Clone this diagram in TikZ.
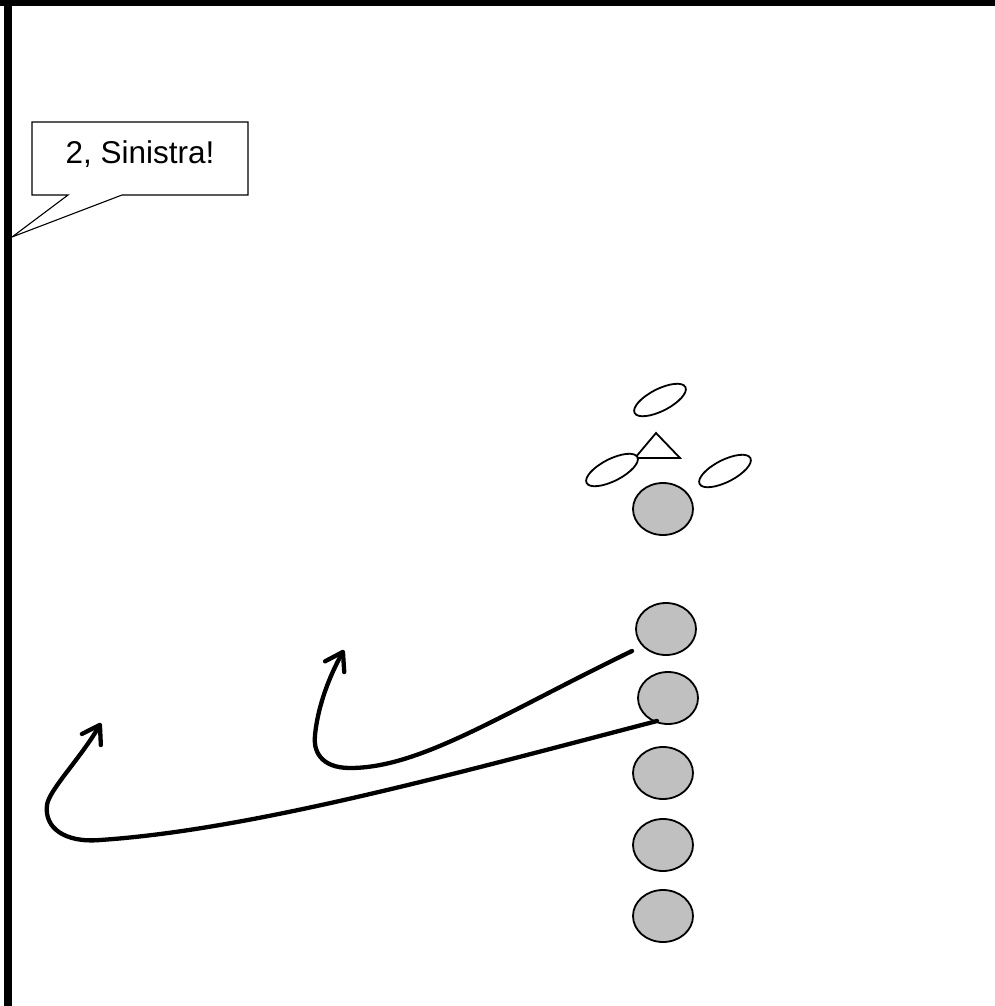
\documentclass[tikz,border=0pt]{standalone}
\usepackage{fontspec}
\setmainfont{Liberation Sans}
\usetikzlibrary{arrows.meta,shapes.geometric}
\definecolor{playergrey}{RGB}{192,192,192}
\begin{document}
\begin{tikzpicture}[x=1pt,y=-1pt,
  player/.style={ellipse, draw=black, line width=1.8pt, fill=playergrey,
    minimum width=60pt, minimum height=52pt, inner sep=0pt},
  defender/.style={ellipse, draw=black, line width=1.8pt, fill=white,
    minimum width=57pt, minimum height=22pt, inner sep=0pt, rotate=27},
  route/.style={line width=4.3pt, line cap=round, line join=round,
    -{Straight Barb[length=17pt,width=22pt,line cap=round,line join=round]}},
  frame/.style={black},
  bubble/.style={draw=black, line width=1.1pt, fill=white, line join=miter}]
\useasboundingbox (0,0) rectangle (995,1006);
\fill[white] (0,0) rectangle (995,1006);
% frame
\fill[frame] (4,0) rectangle (12,1006);
\fill[frame] (0,0) rectangle (995,6);
% callout
\draw[bubble] (32,122) -- (248,122) -- (248,195) -- (122,195) -- (12,237) -- (68,195) -- (32,195) -- cycle;
\node[anchor=base, inner sep=0pt, font=\fontsize{31.5}{38}\selectfont] (callout) at (140,163) {2, Sinistra!};
% defenders
\draw[line width=1.8pt, line join=miter] (656,433) -- (680,458) -- (635,458) -- cycle;
\node[defender] (d1) at (660,400) {};
\node[defender] (d2) at (612,470) {};
\node[defender] (d3) at (725,471) {};
% players
\node[player] (p0) at (663,509) {};
\node[player] (p1) at (666,629) {};
\node[player] (p2) at (668,698) {};
\node[player] (p3) at (663,773) {};
\node[player] (p4) at (663,845) {};
\node[player] (p5) at (663,916) {};
% routes
\coordinate (r1s) at (632,651);
\coordinate (r1e) at (344,650);
\coordinate (r2s) at (657,721);
\coordinate (r2e) at (101,723);
\draw[route] (r1s) .. controls (500,715) and (420,768) .. (350,768)
  .. controls (320,768) and (313,750) .. (315,735)
  .. controls (318,705) and (330,675) .. (r1e);
\draw[route] (r2s) .. controls (450,775) and (250,830) .. (100,840)
  .. controls (65,843) and (44,828) .. (47,805)
  .. controls (49,790) and (80,759) .. (r2e);
\end{tikzpicture}
\end{document}
